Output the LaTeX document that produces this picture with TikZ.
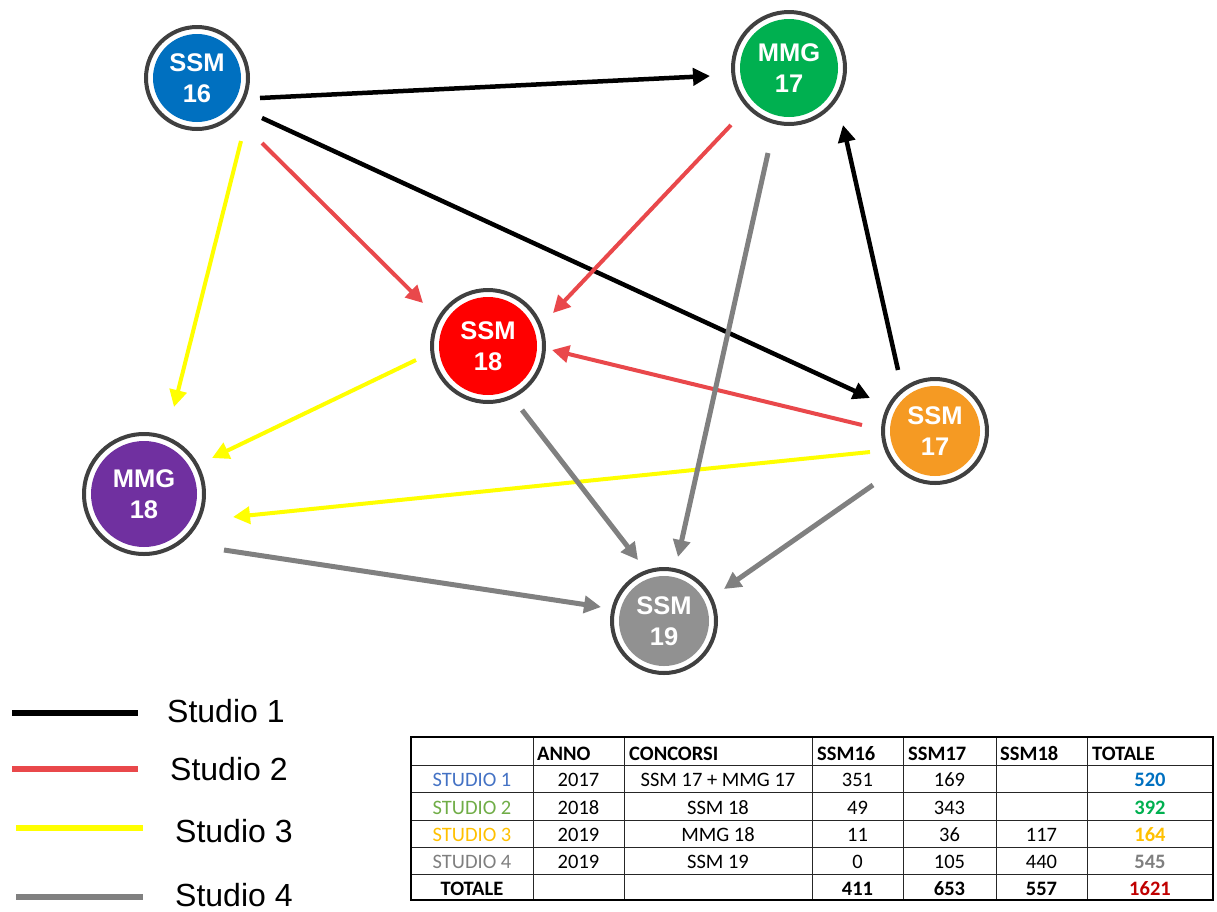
\documentclass[tikz,border=0pt]{standalone}
\usepackage{fontspec}
\setmainfont{Liberation Sans}
\newfontfamily\calibri{Carlito}
\usetikzlibrary{arrows.meta,calc}

\definecolor{ringgray}{HTML}{404040}
\definecolor{ssmblue}{HTML}{0070C0}
\definecolor{mmggreen}{HTML}{00B050}
\definecolor{ssmred}{HTML}{FF0000}
\definecolor{ssmorange}{HTML}{F59A23}
\definecolor{mmgpurple}{HTML}{7030A0}
\definecolor{ssmgray}{HTML}{919191}
\definecolor{studiored}{HTML}{E9484B}
\definecolor{studioyellow}{HTML}{FFFF00}
\definecolor{studiogray}{HTML}{808080}
\definecolor{tabblue}{HTML}{4472C4}
\definecolor{tabgreen}{HTML}{70AD47}
\definecolor{tabgold}{HTML}{FFC000}
\definecolor{tabgray}{HTML}{7F7F7F}
\definecolor{tabred}{HTML}{C00000}

\tikzset{
bubble/.style 2 args={circle, draw=ringgray, line width=4pt, fill=white,
                      minimum size=#1, inner sep=0pt, text=white, align=center,
                      font=\bfseries\fontsize{25.5}{31}\selectfont,
                      path picture={\fill[#2] (path picture bounding box.center) circle[radius=#1/2-7pt];}},
>={Triangle[width=17pt,length=17pt]},
studio1/.style={->, line width=4.5pt, black},
studio2/.style={->, line width=4pt, studiored},
studio3/.style={->, line width=4pt, studioyellow},
studio4/.style={->, line width=5pt, studiogray},
legline/.style={line width=5.5pt},
legtext/.style={anchor=base west, inner sep=0pt, font=\fontsize{32}{38}\selectfont},
tabhead/.style={anchor=base west, inner sep=0pt, font=\calibri\bfseries\fontsize{20.5}{24}\selectfont},
tabcell/.style={anchor=base, inner sep=0pt, font=\calibri\fontsize{20.5}{24}\selectfont},
tabline/.style={line width=1pt, black!85},
tabframe/.style={line width=2.5pt, black},
}

\begin{document}
\begin{tikzpicture}[x=1pt, y=-1pt]

    \useasboundingbox (0,0) rectangle (1217,911);

    \node[bubble={102pt}{ssmblue}] (ssm16) at (197,78) {SSM\\16};
    \node[bubble={112pt}{mmggreen}] (mmg17) at (789,68) {MMG\\17};
    \node[bubble={112pt}{ssmred}] (ssm18) at (488,346) {SSM\\18};
    \node[bubble={104pt}{ssmorange}] (ssm17) at (935,431) {SSM\\17};
    \node[bubble={120pt}{mmgpurple}] (mmg18) at (144,494) {MMG\\18};
    \node[bubble={104pt}{ssmgray}] (ssm19) at (664,621) {SSM\\19};

    % studio 1
    \draw[studio1] ($(ssm16)+(63,20)$) to ($(mmg17)+(-79,8)$);
    \draw[studio1] ($(ssm16)+(65,40)$) to ($(ssm17)+(-65,-33)$);
    \draw[studio1] ($(ssm17)+(-37,-61)$) to ($(mmg17)+(54,57)$);

    % studio 2
    \draw[studio2] ($(ssm16)+(65,65)$) to ($(ssm18)+(-65,-43)$);
    \draw[studio2] ($(mmg17)+(-58,57)$) to ($(ssm18)+(65,-33)$);
    \draw[studio2] ($(ssm17)+(-73,-6)$) to ($(ssm18)+(64,4)$);

    % studio 3
    \draw[studio3] ($(ssm16)+(44,63)$) to ($(mmg18)+(30,-87)$);
    \draw[studio3] ($(ssm18)+(-72,14)$) to ($(mmg18)+(68,-36)$);
    \draw[studio3] ($(ssm17)+(-65,21)$) to ($(mmg18)+(89,23)$);

    % studio 4
    \draw[studio4] ($(mmg17)+(-21,85)$) to ($(ssm19)+(14,-64)$);
    \draw[studio4] ($(ssm18)+(34,64)$) to ($(ssm19)+(-26,-61)$);
    \draw[studio4] ($(ssm17)+(-62,54)$) to ($(ssm19)+(60,-32)$);
    \draw[studio4] ($(mmg18)+(80,56)$) to ($(ssm19)+(-63,-14)$);

    % legend
    \draw[legline, black] (12,713) -- (138,713);
    \draw[legline, studiored] (12,769) -- (138,769);
    \draw[legline, studioyellow] (16,828) -- (143,828);
    \draw[legline, studiogray] (16,897) -- (143,897);
    \node[legtext] (leg1) at (167,722) {Studio 1};
    \node[legtext] (leg2) at (170,780) {Studio 2};
    \node[legtext] (leg3) at (175,842) {Studio 3};
    \node[legtext] (leg4) at (175,906) {Studio 4};

    % table
    \foreach \x in {533,624,812,903,996,1087}
        \draw[tabline] (\x,737) -- (\x,900);
    \foreach \y in {765,792,820,847,874}
        \draw[tabline] (411,\y) -- (1213,\y);
    \draw[tabframe] (411,737) rectangle (1213,900);

    \foreach \x/\t [count=\i] in {537/ANNO,629/CONCORSI,817/SSM16,908/SSM17,1000/SSM18,1092/TOTALE}
        \node[tabhead] (head\i) at (\x,760) {\t};

    \foreach \y/\col/\anno/\conc/\a/\b/\c/\tot/\totcol [count=\i] in {
        786/tabblue/2017/SSM 17 + MMG 17/351/169//520/ssmblue,
        814/tabgreen/2018/SSM 18/49/343//392/mmggreen,
        841/tabgold/2019/MMG 18/11/36/117/164/tabgold,
        868/tabgray/2019/SSM 19/0/105/440/545/tabgray}{
        \node[tabcell, text=\col] (stud\i) at (472,\y) {STUDIO \i};
        \node[tabcell] (anno\i) at (578.5,\y) {\anno};
        \node[tabcell] (conc\i) at (718,\y) {\conc};
        \node[tabcell] (sixteen\i) at (857.5,\y) {\a};
        \node[tabcell] (seventeen\i) at (949.5,\y) {\b};
        \node[tabcell] (eighteen\i) at (1041.5,\y) {\c};
        \node[tabcell, text=\totcol, font=\calibri\bfseries\fontsize{20.5}{24}\selectfont] (tot\i) at (1150,\y) {\tot};
    }

    \node[tabhead, anchor=base] (totlabel) at (472,895) {TOTALE};
    \node[tabhead, anchor=base] (sum16) at (857.5,895) {411};
    \node[tabhead, anchor=base] (sum17) at (949.5,895) {653};
    \node[tabhead, anchor=base] (sum18) at (1041.5,895) {557};
    \node[tabhead, anchor=base, text=tabred] (sumall) at (1150,895) {1621};

\end{tikzpicture}
\end{document}
